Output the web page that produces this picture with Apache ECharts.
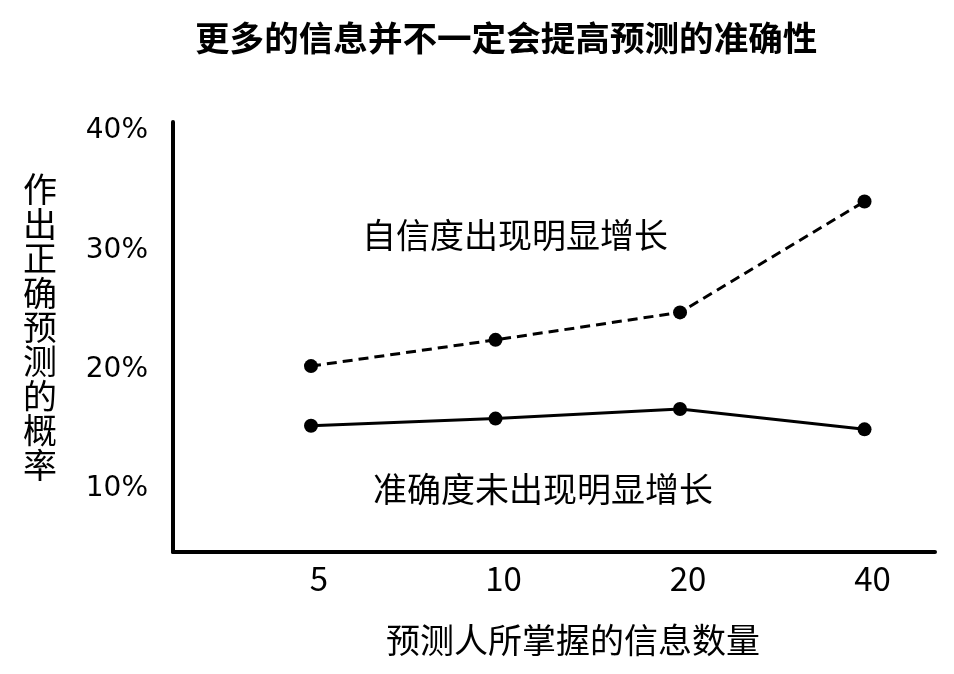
<!DOCTYPE html>
<html>
<head>
<meta charset="utf-8">
<script src="https://cdn.jsdelivr.net/npm/echarts@6/dist/echarts.min.js"></script>
<style>
html,body{margin:0;padding:0;background:#fff;}
#chart{width:954px;height:674px;}
</style>
</head>
<body>
<div id="chart"></div>
<script>
// Data
var xCategories = ['5', '10', '20', '40'];
var confidenceValues = [20.3, 22.5, 24.8, 34.1];   // dashed: 自信度
var accuracyValues = [15.3, 15.9, 16.7, 15.0];     // solid: 准确度
var yTickValues = [10, 20, 30, 40];
var titleText = '更多的信息并不一定会提高预测的准确性';
var xAxisName = '预测人所掌握的信息数量';
var yAxisName = '作出正确预测的概率';
var noteConfidence = '自信度出现明显增长';
var noteAccuracy = '准确度未出现明显增长';

var cjk = '"Noto Sans CJK SC", "Noto Sans", sans-serif';

function toPairs(vals) {
  return vals.map(function (v, i) { return [i, v]; });
}

var chart = echarts.init(document.getElementById('chart'), null, {renderer: 'canvas'});
chart.setOption({
  backgroundColor: '#ffffff',
  animation: false,
  title: {
    text: titleText,
    left: 190,
    top: 16,
    textStyle: {fontFamily: cjk, fontSize: 34.6, fontWeight: 'bold', color: '#000'}
  },
  grid: {left: 173, right: 19, top: 122, bottom: 122},
  xAxis: {
    type: 'value',
    min: -0.748,
    max: 3.382,
    name: xAxisName,
    nameLocation: 'middle',
    nameGap: 71,
    nameTextStyle: {fontFamily: cjk, fontSize: 34, color: '#000', padding: [0, 0, 0, 38]},
    axisLine: {show: true, onZero: false, lineStyle: {color: '#000', width: 4}},
    axisTick: {show: false},
    splitLine: {show: false},
    axisLabel: {
      customValues: [0, 1, 2, 3],
      formatter: function (v) { return xCategories[Math.round(v)]; },
      fontFamily: cjk,
      fontSize: 33,
      color: '#000',
      margin: 10,
      padding: [0, 0, 0, 16]
    }
  },
  yAxis: {
    type: 'value',
    min: 4.72,
    max: 40.76,
    axisLine: {show: true, onZero: false, lineStyle: {color: '#000', width: 4}},
    axisTick: {show: false},
    splitLine: {show: false},
    axisLabel: {
      customValues: yTickValues,
      formatter: '{value}%',
      fontFamily: '"DejaVu Sans", sans-serif',
      fontSize: 28,
      color: '#000',
      margin: 25,
      padding: [8, 0, 0, 0]
    }
  },
  graphic: [
    {type: 'text', x: 40, y: 327, style: {text: yAxisName.split('').join('\n'), font: '34px ' + cjk, lineHeight: 34.4, fill: '#000', textAlign: 'center', textVerticalAlign: 'middle'}},
    {type: 'text', x: 515, y: 235, style: {text: noteConfidence, font: '34px ' + cjk, fill: '#000', textAlign: 'center', textVerticalAlign: 'middle'}},
    {type: 'text', x: 543, y: 489, style: {text: noteAccuracy, font: '34px ' + cjk, fill: '#000', textAlign: 'center', textVerticalAlign: 'middle'}}
  ],
  series: [
    {
      type: 'line',
      data: toPairs(confidenceValues),
      symbol: 'circle',
      symbolSize: 14,
      itemStyle: {color: '#000'},
      lineStyle: {color: '#000', width: 3, type: [10, 6]}
    },
    {
      type: 'line',
      data: toPairs(accuracyValues),
      symbol: 'circle',
      symbolSize: 14,
      itemStyle: {color: '#000'},
      lineStyle: {color: '#000', width: 3, type: 'solid'}
    }
  ]
});
</script>
</body>
</html>
